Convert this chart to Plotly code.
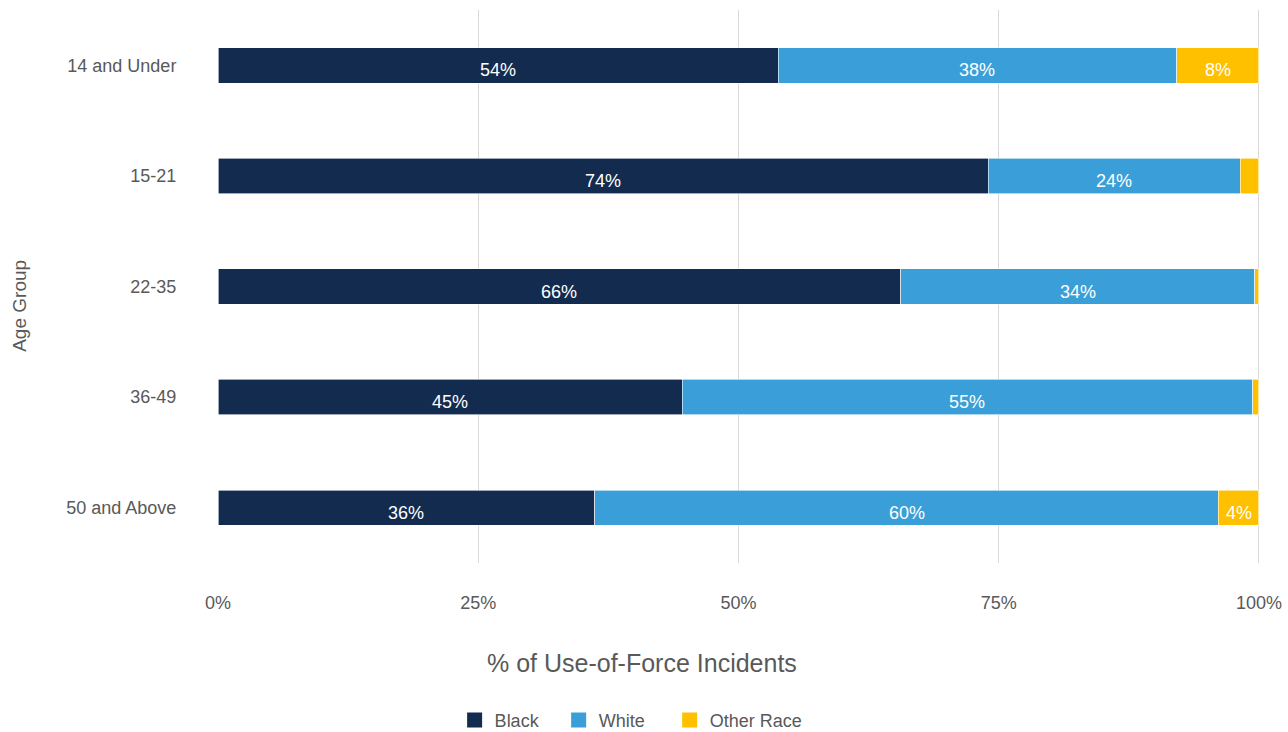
import plotly.graph_objects as go

# Age groups (top to bottom) and share of incidents by race, in percent
age_groups = ["14 and Under", "15-21", "22-35", "36-49", "50 and Above"]
black = [53.8, 74.0, 65.6, 44.6, 36.2]
white = [38.3, 24.2, 34.0, 54.8, 59.9]
other = [7.9, 1.8, 0.4, 0.6, 3.9]

x_ticks = [0, 25, 50, 75, 100]
x_tick_labels = ["0%", "25%", "50%", "75%", "100%"]

series = [
    ("Black", black, "#132B4F"),
    ("White", white, "#3A9FD8"),
    ("Other Race", other, "#FFC000"),
]

FONT = "Liberation Sans, Arial, sans-serif"
GREY = "#595959"
NB = "\u00a0"
# extra trailing space after each legend name to widen the entry spacing
legend_pad = {"Black": 3, "White": 4, "Other Race": 0}

fig = go.Figure()
annotations = []
base = [0.0] * len(age_groups)
for name, vals, color in series:
    fig.add_trace(go.Bar(
        name=name,
        y=age_groups,
        x=vals,
        orientation="h",
        marker=dict(color=color, line=dict(color="white", width=0.6)),
        showlegend=False,
        legendgroup=name,
        hovertemplate="%{y}: %{x:.0f}%<extra>" + name + "</extra>",
    ))
    # value labels centred on each segment (small slivers left unlabelled)
    for i, v in enumerate(vals):
        if v >= 3:
            annotations.append(dict(
                x=base[i] + v / 2, y=age_groups[i], xref="x", yref="y",
                text=f"{v:.0f}%", showarrow=False, yshift=-5,
                font=dict(color="white", size=18, family=FONT),
            ))
        base[i] += v

# Legend entries with larger square swatches
for name, _, color in series:
    fig.add_trace(go.Scatter(
        x=[None], y=[None], mode="markers",
        name=name + NB * legend_pad[name], legendgroup=name,
        marker=dict(symbol="square", size=15, color=color),
        showlegend=True, hoverinfo="skip",
    ))

annotations += [
    dict(text="% of Use-of-Force Incidents", xref="paper", yref="paper",
         x=0.407, y=-0.181, xanchor="center", yanchor="middle",
         showarrow=False, font=dict(size=25, color=GREY)),
    dict(text="Age Group", xref="paper", yref="paper",
         x=-0.1905, y=0.466, xanchor="center", yanchor="middle",
         textangle=-90, showarrow=False, font=dict(size=19, color=GREY)),
]

fig.update_layout(
    barmode="stack",
    bargap=0.68,
    width=1288,
    height=732,
    margin=dict(l=218, r=28, t=10, b=169),
    plot_bgcolor="white",
    paper_bgcolor="white",
    font=dict(family=FONT, color=GREY, size=18),
    legend=dict(
        orientation="h",
        xref="container", yref="container",
        x=0.49, y=0.016,
        xanchor="center", yanchor="middle",
        font=dict(size=18, color=GREY),
        itemwidth=30,
        traceorder="normal",
    ),
    xaxis=dict(
        range=[0, 100.1],
        automargin=False,
        tickvals=x_ticks,
        ticktext=x_tick_labels,
        showgrid=True,
        gridcolor="#D9D9D9",
        gridwidth=1,
        zeroline=False,
        ticks="outside",
        ticklen=23,
        tickcolor="rgba(0,0,0,0)",
        tickfont=dict(size=18, color=GREY),
    ),
    yaxis=dict(
        categoryorder="array",
        categoryarray=age_groups,
        autorange="reversed",
        automargin=False,
        showgrid=False,
        ticks="outside",
        ticklen=37,
        tickcolor="rgba(0,0,0,0)",
        tickfont=dict(size=18, color=GREY),
    ),
    annotations=annotations,
)

fig.write_html("out.html")
